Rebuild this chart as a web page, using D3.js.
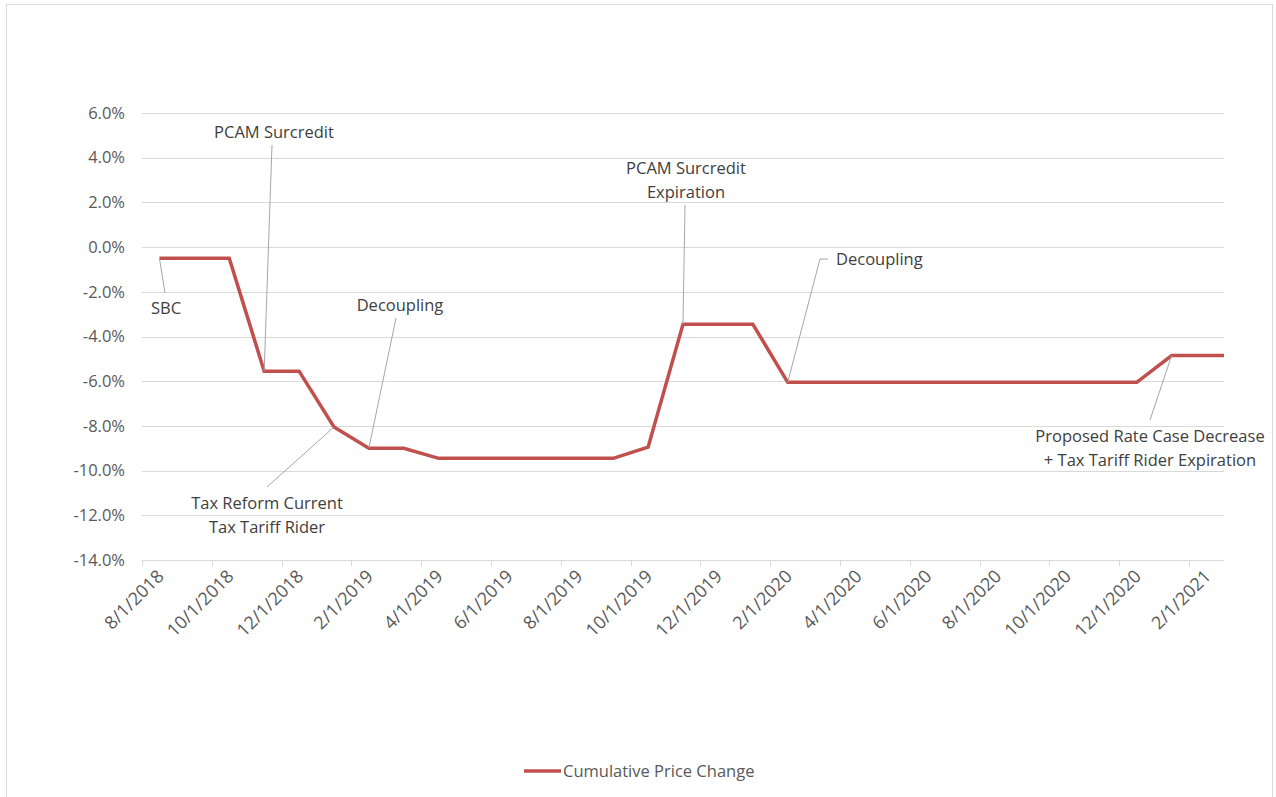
<!DOCTYPE html>
<html lang="en">
<head>
    <meta charset="UTF-8">
    <title>Cumulative Price Change</title>
    <script src="https://d3js.org/d3.v7.min.js"></script>
    <style>
        body { margin: 0; background: #fff; font-family: "Open Sans", sans-serif; }
        svg { display: block; }
        .grid line { stroke: #d9d9d9; stroke-width: 1px; }
        .ylab { fill: #595959; font-size: 16.5px; }
        .xlab { fill: #595959; font-size: 18px; }
        .legend { fill: #595959; font-size: 16.5px; }
        .note { fill: #404040; font-size: 16.5px; }
        .leader { stroke: #a6a6a6; stroke-width: 1px; fill: none; }
    </style>
</head>
<body>
<svg width="1276" height="797"></svg>
<script>
// monthly series, 8/1/2018 .. 3/1/2021
const months = ["8/1/2018","9/1/2018","10/1/2018","11/1/2018","12/1/2018","1/1/2019","2/1/2019","3/1/2019",
    "4/1/2019","5/1/2019","6/1/2019","7/1/2019","8/1/2019","9/1/2019","10/1/2019","11/1/2019","12/1/2019",
    "1/1/2020","2/1/2020","3/1/2020","4/1/2020","5/1/2020","6/1/2020","7/1/2020","8/1/2020","9/1/2020",
    "10/1/2020","11/1/2020","12/1/2020","1/1/2021","2/1/2021","3/1/2021"];
const priceChange = [-0.5,-0.5,-0.5,-5.55,-5.55,-8.05,-9.0,-9.0,
    -9.45,-9.45,-9.45,-9.45,-9.45,-9.45,-8.95,-3.45,-3.45,
    -3.45,-6.05,-6.05,-6.05,-6.05,-6.05,-6.05,-6.05,-6.05,
    -6.05,-6.05,-6.05,-4.85,-4.85,-4.85];
const xTickLabels = ["8/1/2018","10/1/2018","12/1/2018","2/1/2019","4/1/2019","6/1/2019","8/1/2019","10/1/2019",
    "12/1/2019","2/1/2020","4/1/2020","6/1/2020","8/1/2020","10/1/2020","12/1/2020","2/1/2021"];
const yTicks = [-14,-12,-10,-8,-6,-4,-2,0,2,4,6];
const seriesName = "Cumulative Price Change";

// callouts: the month they point at, their text lines
const noteMonths = ["8/1/2018","11/1/2018","1/1/2019","2/1/2019","11/1/2019","2/1/2020","1/1/2021"];
const noteTexts = [["SBC"],["PCAM Surcredit"],["Tax Reform Current","Tax Tariff Rider"],["Decoupling"],
    ["PCAM Surcredit","Expiration"],["Decoupling"],["Proposed Rate Case Decrease","+ Tax Tariff Rider Expiration"]];

// where each label sits (text anchor, leader end) - layout only
const noteLayout = [
    {tx: 166, ty: 314, anchor: "middle", lx: 165, ly: 293},
    {tx: 274, ty: 138, anchor: "middle", lx: 272, ly: 145},
    {tx: 267, ty: 509, anchor: "middle", lx: 267, ly: 487},
    {tx: 400, ty: 311, anchor: "middle", lx: 396, ly: 318},
    {tx: 686, ty: 174, anchor: "middle", lx: 685, ly: 205},
    {tx: 836, ty: 265, anchor: "start", lx: 820, ly: 259, hook: 828},
    {tx: 1150, ty: 442, anchor: "middle", lx: 1150, ly: 420}
];

const svg = d3.select("svg");
const plot = {left: 142, right: 1224, top: 113, bottom: 560};

// chart frame
svg.append("rect").attr("x", 6.5).attr("y", 4.5).attr("width", 1266).attr("height", 820)
    .attr("fill", "#fff").attr("stroke", "#d9d9d9");

const monthIdx = s => { const [m, , y] = s.split("/").map(Number); return (y - 2018) * 12 + m - 8; };

const x = d3.scaleLinear().domain([0, 31]).range([plot.left, plot.right]);
const y = d3.scaleLinear().domain([-14, 6]).range([plot.bottom, plot.top]);
const px = s => x(monthIdx(s) + 0.5);

// horizontal gridlines
svg.append("g").attr("class", "grid")
    .selectAll("line").data(yTicks).join("line")
    .attr("x1", plot.left).attr("x2", plot.right)
    .attr("y1", d => Math.round(y(d)) + 0.5).attr("y2", d => Math.round(y(d)) + 0.5);

svg.append("g").selectAll("text").data(yTicks).join("text")
    .attr("class", "ylab")
    .attr("x", 125).attr("y", d => y(d)).attr("dy", "0.35em")
    .attr("text-anchor", "end")
    .text(d => d.toFixed(1) + "%");

// x axis tick marks every 2 months
svg.append("g").attr("class", "grid")
    .selectAll("line").data(xTickLabels).join("line")
    .attr("x1", d => Math.round(x(monthIdx(d))) + 0.5).attr("x2", d => Math.round(x(monthIdx(d))) + 0.5)
    .attr("y1", plot.bottom).attr("y2", plot.bottom + 6);

svg.append("g").selectAll("text").data(xTickLabels).join("text")
    .attr("class", "xlab")
    .attr("transform", d => `translate(${px(d) + 1},${plot.bottom + 13}) rotate(-45)`)
    .attr("text-anchor", "end")
    .attr("dy", "0.35em")
    .text(d => d);

// series line, clipped to the plot area
svg.append("clipPath").attr("id", "clip").append("rect")
    .attr("x", plot.left).attr("y", 0).attr("width", plot.right - plot.left).attr("height", 797);

const line = d3.line().x(d => px(d[0])).y(d => y(d[1]));
svg.append("path")
    .datum(d3.zip(months, priceChange))
    .attr("clip-path", "url(#clip)")
    .attr("d", line)
    .attr("fill", "none")
    .attr("stroke", "#c0504d")
    .attr("stroke-width", 3.5)
    .attr("stroke-linejoin", "miter");

// callouts
noteMonths.forEach((m, i) => {
    const L = noteLayout[i];
    const v = priceChange[months.indexOf(m)];
    const pts = [[px(m), y(v)], [L.lx, L.ly]];
    if (L.hook) pts.push([L.hook, L.ly]);
    svg.append("path").attr("class", "leader").attr("d", d3.line()(pts));
    const t = svg.append("text").attr("class", "note")
        .attr("x", L.tx).attr("y", L.ty).attr("text-anchor", L.anchor);
    noteTexts[i].forEach((s, j) => {
        t.append("tspan").attr("x", L.tx).attr("dy", j ? 24 : 0).text(s);
    });
});

// legend
const lg = svg.append("g").attr("transform", "translate(524,771)");
lg.append("line").attr("x1", 0).attr("x2", 37).attr("stroke", "#c0504d").attr("stroke-width", 3.5);
lg.append("text").attr("class", "legend").attr("x", 39).attr("dy", "0.35em").text(seriesName);
</script>
</body>
</html>
